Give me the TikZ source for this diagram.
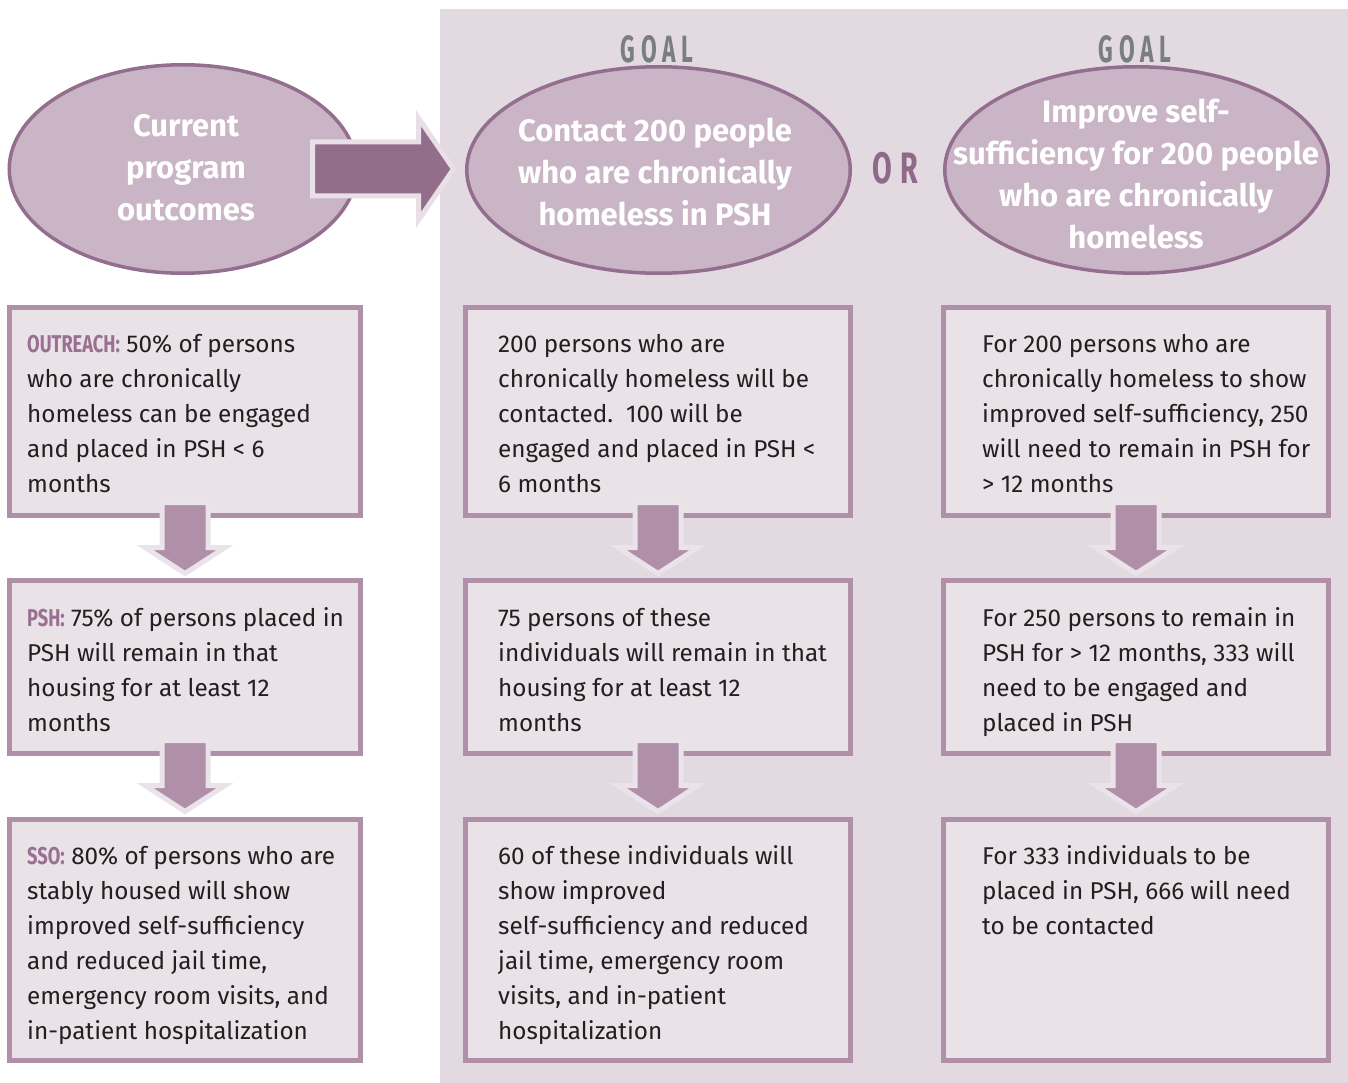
\documentclass[tikz,border=0pt]{standalone}
\usepackage{fontspec}
\setmainfont{Fira Sans}
\newfontfamily\goalfont[FakeStretch=0.6,LetterSpace=15]{Fira Sans}
\newfontfamily\orfont[FakeStretch=0.65,LetterSpace=18]{Fira Sans}
\newfontfamily\labfont[FakeStretch=0.75]{Fira Sans}
\usetikzlibrary{shapes.geometric,calc}
\definecolor{panelc}{HTML}{E2D9E1}
\definecolor{ellfill}{HTML}{C9B5C5}
\definecolor{elldraw}{HTML}{936E8E}
\definecolor{bigarr}{HTML}{936E8B}
\definecolor{bigarrbd}{HTML}{E8E0E6}
\definecolor{boxfill}{HTML}{E9E3E8}
\definecolor{boxdraw}{HTML}{B08FA8}
\definecolor{dnarrbd}{HTML}{EBE3EA}
\definecolor{txtc}{HTML}{231F20}
\definecolor{goalc}{HTML}{797E80}
\definecolor{orc}{HTML}{8E6A88}
\definecolor{labc}{HTML}{9A7092}
\newcommand\lab[1]{{\labfont\bfseries\color{labc}#1}}
\newcommand\boxtext[1]{\parbox[t]{400pt}{\fontsize{24.3}{35}\selectfont\raggedright\leavevmode#1}}
\newcommand\flowarrow[1]{\draw[dnarr] ([shift={(-23,-15.5)}]#1.south) -- ++(0,45) -- ++(-17,0) -- ++(40,26) -- ++(40,-26) -- ++(-17,0) -- ++(0,-45) -- cycle;}
\tikzset{
  goalell/.style={ellipse, draw=elldraw, fill=ellfill, line width=3.5pt, inner sep=0pt},
  elltext/.style={align=center, text=white, inner sep=0pt, font=\fontsize{31}{42}\selectfont\bfseries},
  outbox/.style={rectangle, draw=boxdraw, fill=boxfill, line width=5pt, inner sep=0pt},
  btext/.style={anchor=base west, inner sep=0pt, text=txtc},
  dnarr/.style={fill=boxdraw, draw=dnarrbd, line width=5pt},
  bigarrow/.style={fill=bigarr, draw=bigarrbd, line width=5pt},
  goallab/.style={anchor=base, inner sep=0pt, text=goalc, font=\goalfont\bfseries\fontsize{38}{40}\selectfont},
}
\begin{document}
\begin{tikzpicture}[x=1pt,y=-1pt]
\useasboundingbox (0,0) rectangle (1348,1083);
\fill[panelc] (440,9) rectangle (1348,1083);

% ellipses
\node[goalell, minimum width=347.5, minimum height=208.5] (cur) at (183,169) {};
\node[goalell, minimum width=383.5, minimum height=206.5] (g1) at (658.5,170) {};
\node[goalell, minimum width=383.5, minimum height=206.5] (g2) at (1136.5,170) {};
\node[elltext] (curt) at (186,168) {Current\\program\\outcomes};
\node[elltext] (g1t) at (655,172) {Contact 200 people\\who are chronically\\homeless in PSH};
\node[elltext] (g2t) at (1136,174) {Improve self-\\sufficiency for 200 people\\who are chronically\\homeless};
\node[goallab] (goal1) at (657,63) {GOAL};
\node[goallab] (goal2) at (1135,63) {GOAL};
\node[anchor=center, inner sep=0pt, text=orc, font=\orfont\bfseries\fontsize{44}{46}\selectfont] (or) at (895,168) {OR};

% big arrow
\draw[bigarrow] ([shift={(-46,-27)}]cur.east) -- ++(106,0) -- ++(0,-24) -- ++(35,51) -- ++(-35,51) -- ++(0,-24) -- ++(-106,0) -- cycle;

% boxes
\node[outbox, minimum width=351, minimum height=208] (b11) at (185,411.5) {};
\node[outbox, minimum width=351, minimum height=173] (b12) at (185,667) {};
\node[outbox, minimum width=351, minimum height=241] (b13) at (185,940) {};
\node[outbox, minimum width=385, minimum height=208] (b21) at (658,411.5) {};
\node[outbox, minimum width=385, minimum height=173] (b22) at (658,667) {};
\node[outbox, minimum width=385, minimum height=241] (b23) at (658,940) {};
\node[outbox, minimum width=385, minimum height=208] (b31) at (1136,411.5) {};
\node[outbox, minimum width=385, minimum height=173] (b32) at (1136,667) {};
\node[outbox, minimum width=385, minimum height=241] (b33) at (1136,940) {};

% texts
\node[btext] (t11) at (27,352) {\boxtext{\lab{OUTREACH:} 50\% of persons\\who are chronically\\homeless can be engaged\\and placed in PSH \textless{} 6\\months}};
\node[btext] (t12) at (27,626) {\boxtext{\lab{PSH:} 75\% of persons placed in\\PSH will remain in that\\housing for at least 12\\months}};
\node[btext] (t13) at (27,864) {\boxtext{\lab{SSO:} 80\% of persons who are\\stably housed will show\\improved self-sufficiency\\and reduced jail time,\\emergency room visits, and\\in-patient hospitalization}};
\node[btext] (t21) at (498,352) {\boxtext{200 persons who are\\chronically homeless will be\\contacted.\ \ 100 will be\\engaged and placed in PSH \textless\\6 months}};
\node[btext] (t22) at (498,626) {\boxtext{75 persons of these\\individuals will remain in that\\housing for at least 12\\months}};
\node[btext] (t23) at (498,864) {\boxtext{60 of these individuals will\\show improved\\self-sufficiency and reduced\\jail time, emergency room\\visits, and in-patient\\hospitalization}};
\node[btext] (t31) at (982,352) {\boxtext{For 200 persons who are\\chronically homeless to show\\improved self-sufficiency, 250\\will need to remain in PSH for\\\textgreater{} 12 months}};
\node[btext] (t32) at (982,626) {\boxtext{For 250 persons to remain in\\PSH for \textgreater{} 12 months, 333 will\\need to be engaged and\\placed in PSH}};
\node[btext] (t33) at (982,864) {\boxtext{For 333 individuals to be\\placed in PSH, 666 will need\\to be contacted}};

% down arrows
\flowarrow{b11}
\flowarrow{b12}
\flowarrow{b21}
\flowarrow{b22}
\flowarrow{b31}
\flowarrow{b32}
\end{tikzpicture}
\end{document}
